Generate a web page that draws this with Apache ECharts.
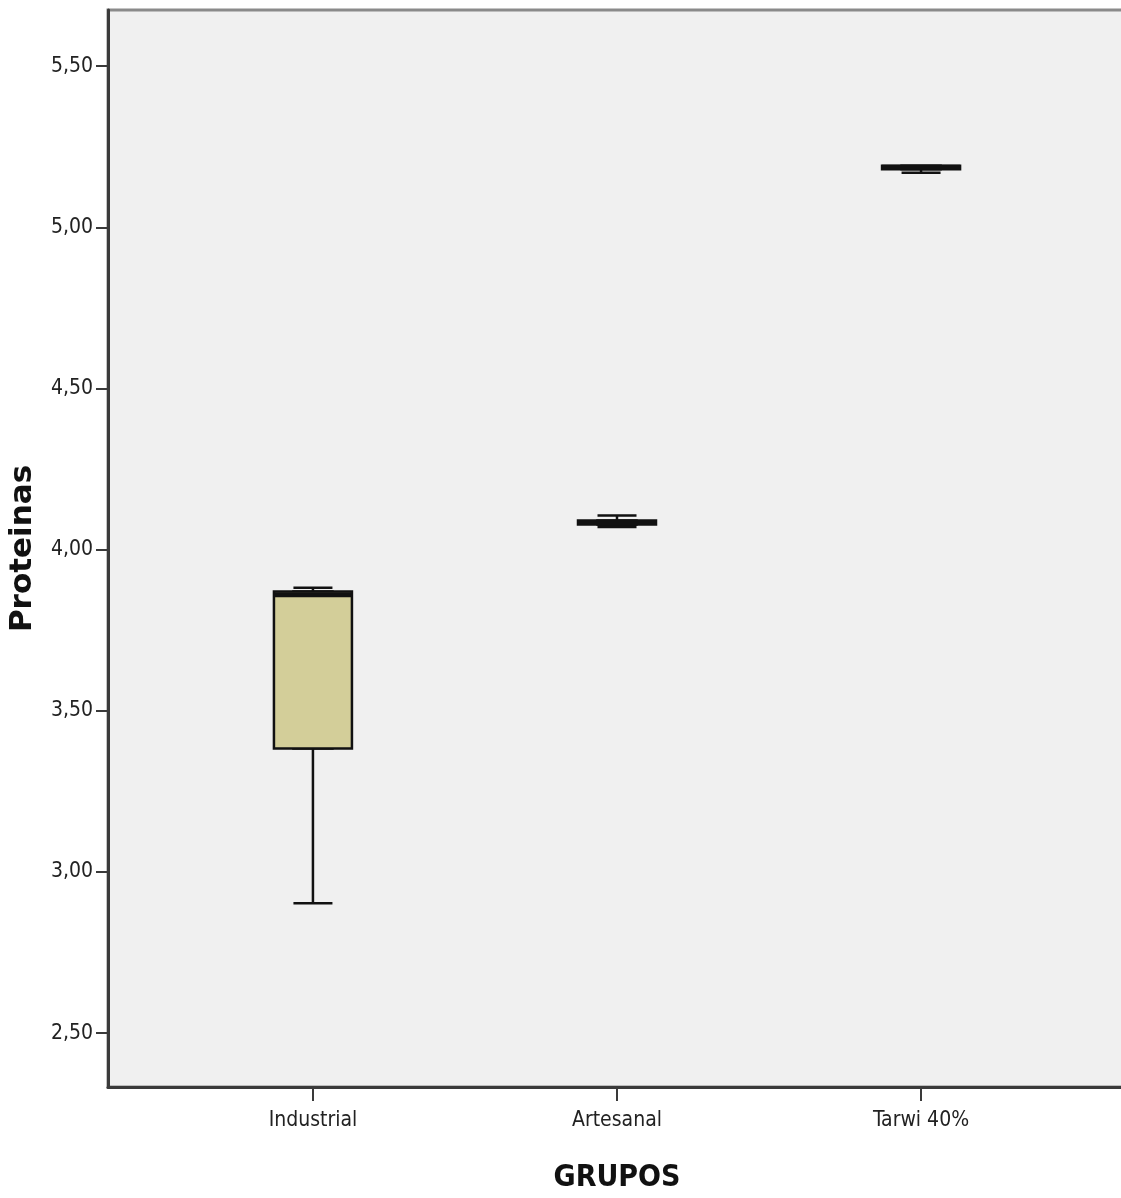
<!DOCTYPE html>
<html lang="es">
<head>
  <meta charset="UTF-8">
  <title>Proteinas por grupo</title>
  <style>
    html, body { margin: 0; padding: 0; background: #fff; }
  </style>
</head>
<body>
  <div id="main" style="width: 1121px;height:1198px;"></div>

  <script src="https://cdn.jsdelivr.net/npm/echarts@6/dist/echarts.min.js"></script>
  <script>
    // grupos y valores (min, Q1, mediana, Q3, max)
    const categories = ['Industrial', 'Artesanal', 'Tarwi 40%'];
    const minValues = [2.903, 4.070, 5.169];
    const q1Values = [3.383, 4.078, 5.180];
    const medianValues = [3.860, 4.084, 5.186];
    const q3Values = [3.870, 4.090, 5.191];
    const maxValues = [3.882, 4.106, 5.191];
    const yTicks = [2.5, 3.0, 3.5, 4.0, 4.5, 5.0, 5.5];

    const narrow = '"Liberation Sans Narrow", "DejaVu Sans Condensed", "Liberation Sans", sans-serif';

    // bigotes completos (con remates de media anchura)
    const whiskerData = categories.map((c, i) => [i, minValues[i], q1Values[i], medianValues[i], q3Values[i], maxValues[i]]);
    // caja de ancho completo
    const boxData = categories.map((c, i) => [i, q1Values[i], q1Values[i], medianValues[i], q3Values[i], q3Values[i]]);
    // linea gruesa de la mediana
    const medianData = categories.map((c, i) => [i, medianValues[i], medianValues[i], medianValues[i], medianValues[i], medianValues[i]]);

    const myChart = echarts.init(document.getElementById('main'));

    const tickPos = categories.map((c, i) => i);

    // eje x visible
    const mainX = {
      type: 'value',
      min: -0.674,
      max: 2.674,
      name: 'GRUPOS',
      nameLocation: 'middle',
      nameGap: 76,
      nameTextStyle: {
        fontFamily: narrow,
        fontWeight: 'bold',
        fontSize: 30,
        color: '#111'
      },
      splitLine: { show: false },
      axisLine: { show: true, onZero: false, lineStyle: { color: '#3a3a3a', width: 3 } },
      axisTick: {
        show: true,
        length: 14,
        customValues: tickPos,
        lineStyle: { color: '#3a3a3a', width: 2 }
      },
      axisLabel: {
        customValues: tickPos,
        formatter: (v) => categories[Math.round(v)] || '',
        margin: 23,
        fontFamily: narrow,
        fontSize: 21,
        color: '#222'
      }
    };
    // ejes gemelos ocultos (para que las series no se desplacen)
    const hiddenX = {
      type: 'value',
      min: -0.674,
      max: 2.674,
      show: false,
      splitLine: { show: false }
    };

    const options = {
      animation: false,
      backgroundColor: '#ffffff',
      grid: {
        left: 108,
        top: 10,
        right: -5,
        bottom: 111,
        show: true,
        backgroundColor: '#f0f0f0',
        borderColor: '#8a8a8a',
        borderWidth: 3,
        outerBoundsMode: 'none'
      },
      xAxis: [mainX, hiddenX, hiddenX],
      yAxis: {
        type: 'value',
        min: 2.333,
        max: 5.674,
        name: 'Proteinas',
        nameLocation: 'middle',
        nameGap: 70,
        nameTextStyle: {
          fontFamily: '"DejaVu Sans", sans-serif',
          fontWeight: 'bold',
          fontSize: 31,
          color: '#111'
        },
        splitLine: { show: false },
        axisLine: { show: true, onZero: false, lineStyle: { color: '#3a3a3a', width: 3 } },
        axisTick: {
          show: true,
          length: 12,
          customValues: yTicks,
          lineStyle: { color: '#3a3a3a', width: 2 }
        },
        axisLabel: {
          customValues: yTicks,
          formatter: (v) => v.toFixed(2).replace('.', ','),
          margin: 15,
          fontFamily: narrow,
          fontSize: 21,
          color: '#222'
        }
      },
      series: [
        {
          name: 'bigotes',
          type: 'boxplot',
          layout: 'horizontal',
          xAxisIndex: 0,
          boxWidth: [39, 39],
          itemStyle: { color: '#d3ce99', borderColor: '#111', borderWidth: 2.5 },
          emphasis: { disabled: true },
          data: whiskerData
        },
        {
          name: 'caja',
          type: 'boxplot',
          layout: 'horizontal',
          xAxisIndex: 1,
          boxWidth: [78, 78],
          itemStyle: { color: '#d3ce99', borderColor: '#111', borderWidth: 2.5 },
          emphasis: { disabled: true },
          data: boxData
        },
        {
          name: 'mediana',
          type: 'boxplot',
          layout: 'horizontal',
          xAxisIndex: 2,
          boxWidth: [78, 78],
          itemStyle: { color: '#111', borderColor: '#111', borderWidth: 5 },
          emphasis: { disabled: true },
          data: medianData
        }
      ]
    };

    myChart.setOption(options);
  </script>
</body>
</html>
